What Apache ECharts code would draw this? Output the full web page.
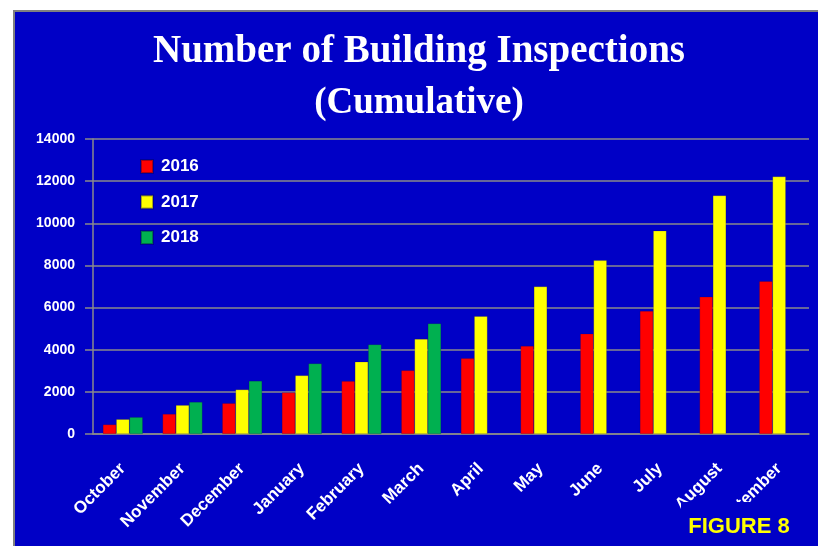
<!DOCTYPE html>
<html lang="en">
<head>
    <meta charset="UTF-8">
    <title>Number of Building Inspections</title>
    <script src="https://cdn.jsdelivr.net/npm/echarts@6/dist/echarts.min.js"></script>
    <style>
        html, body { margin: 0; padding: 0; background: #ffffff; }
        #main { width: 818px; height: 546px; }
    </style>
</head>
<body>
<div id="main"></div>
<script>
    // data
    var months = ['October', 'November', 'December', 'January', 'February', 'March',
        'April', 'May', 'June', 'July', 'August', 'September'];
    var y2016 = [450, 950, 1460, 1970, 2510, 3020, 3590, 4180, 4760, 5840, 6510, 7250];
    var y2017 = [700, 1370, 2110, 2780, 3430, 4510, 5590, 7000, 8240, 9650, 11320, 12220];
    var y2018 = [800, 1520, 2520, 3350, 4250, 5250, null, null, null, null, null, null];
    var yTicks = [0, 2000, 4000, 6000, 8000, 10000, 12000, 14000];

    var blue = '#0000c6';
    var gridGray = '#8a8a8a';
    var sans = '"Liberation Sans", Arial, sans-serif';

    var chart = echarts.init(document.getElementById('main'));

    function bar(name, data, color) {
        return {
            name: name,
            type: 'bar',
            data: data,
            barWidth: 13.3,
            barGap: '0%',
            itemStyle: { color: color, borderColor: 'rgba(0,0,60,0.35)', borderWidth: 0.5 }
        };
    }

    var option = {
        backgroundColor: '#ffffff',
        animation: false,
        graphic: [
            {   // blue chart panel
                type: 'rect', z: -10,
                shape: { x: 14, y: 11, width: 830, height: 560 },
                style: { fill: blue, stroke: '#808080', lineWidth: 2 }
            },
            {
                type: 'text', z: 10, x: 419, y: 52,
                style: {
                    text: 'Number of Building Inspections', fill: '#ffffff',
                    font: 'bold 39px "Liberation Serif", "DejaVu Serif", serif',
                    textAlign: 'center', textVerticalAlign: 'middle'
                }
            },
            {
                type: 'text', z: 10, x: 419, y: 103,
                style: {
                    text: '(Cumulative)', fill: '#ffffff',
                    font: 'bold 37px "Liberation Serif", "DejaVu Serif", serif',
                    textAlign: 'center', textVerticalAlign: 'middle'
                }
            },
            {   // figure label box sits over the last axis label
                type: 'rect', z: 100,
                shape: { x: 681, y: 502, width: 140, height: 50 },
                style: { fill: blue }
            },
            {
                type: 'text', z: 101, x: 739, y: 527,
                style: {
                    text: 'FIGURE 8', fill: '#ffff00',
                    font: 'bold 22px ' + sans,
                    textAlign: 'center', textVerticalAlign: 'middle'
                }
            }
        ],
        legend: {
            orient: 'vertical',
            left: 135,
            top: 153,
            itemWidth: 12,
            itemHeight: 13,
            itemGap: 18.5,
            icon: 'rect',
            textStyle: { color: '#ffffff', fontWeight: 'bold', fontSize: 17, fontFamily: sans, padding: [0, 0, 0, 3] },
            data: ['2016', '2017', '2018']
        },
        grid: { left: 93, right: 9, top: 139, bottom: 112 },
        xAxis: {
            type: 'category',
            data: months,
            axisLine: { lineStyle: { color: gridGray, width: 1.5 } },
            axisTick: { length: 6, lineStyle: { color: gridGray, width: 1.5 } },
            axisLabel: {
                rotate: 45, margin: 32, color: '#ffffff',
                fontWeight: 'bold', fontSize: 17, fontFamily: sans
            }
        },
        yAxis: {
            type: 'value',
            min: yTicks[0],
            max: yTicks[yTicks.length - 1],
            interval: 2000,
            axisLine: { show: true, lineStyle: { color: gridGray, width: 1.5 } },
            axisTick: { show: true, length: 8, lineStyle: { color: gridGray, width: 1.5 } },
            splitLine: { lineStyle: { color: gridGray, width: 1.5 } },
            axisLabel: {
                margin: 18, color: '#ffffff',
                fontWeight: 'bold', fontSize: 14, fontFamily: sans,
                formatter: function (v) { return String(v); }
            }
        },
        series: [
            bar('2016', y2016, '#ff0000'),
            bar('2017', y2017, '#ffff00'),
            bar('2018', y2018, '#00b050')
        ]
    };

    chart.setOption(option);
</script>
</body>
</html>
